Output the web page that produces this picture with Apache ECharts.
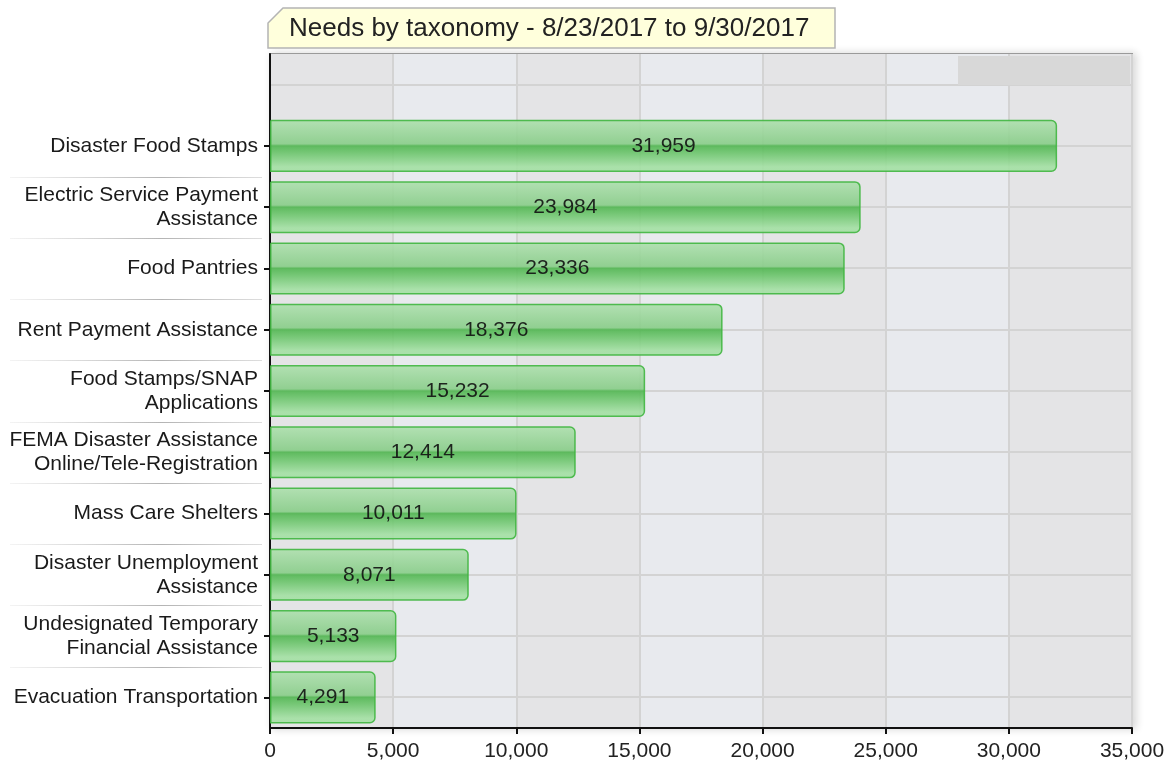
<!DOCTYPE html>
<html>
<head>
<meta charset="utf-8">
<script src="https://cdn.jsdelivr.net/npm/echarts@6/dist/echarts.min.js"></script>
<style>
html,body{margin:0;padding:0;background:#fff;}
#chart{width:1169px;height:766px;}
</style>
</head>
<body>
<div id="chart"></div>
<script>
var titleText = 'Needs by taxonomy - 8/23/2017 to 9/30/2017';
var categories = [
  'Disaster Food Stamps',
  'Electric Service Payment\nAssistance',
  'Food Pantries',
  'Rent Payment Assistance',
  'Food Stamps/SNAP\nApplications',
  'FEMA Disaster Assistance\nOnline/Tele-Registration',
  'Mass Care Shelters',
  'Disaster Unemployment\nAssistance',
  'Undesignated Temporary\nFinancial Assistance',
  'Evacuation Transportation'
];
var values = [31959, 23984, 23336, 18376, 15232, 12414, 10011, 8071, 5133, 4291];
var xTicks = [0, 5000, 10000, 15000, 20000, 25000, 30000, 35000];

var FONT = '"Liberation Sans", Arial, sans-serif';
var yData = [''].concat(categories);
var sData = ['-'].concat(values);

var chart = echarts.init(document.getElementById('chart'));

var barColor = new echarts.graphic.LinearGradient(0, 0, 0, 1, [
  {offset: 0, color: '#ade0ad'},
  {offset: 0.46, color: '#88cd88'},
  {offset: 0.5, color: '#50b650'},
  {offset: 0.62, color: '#68c368'},
  {offset: 0.9, color: '#a3e0a3'},
  {offset: 1, color: '#a3e0a3'}
]);

var option = {
  animation: false,
  backgroundColor: '#ffffff',
  title: {
    text: titleText,
    left: 289,
    top: 16,
    textStyle: {fontFamily: FONT, fontSize: 26, fontWeight: 'normal', color: '#222'},
    padding: 0,
    z: 10
  },
  grid: {
    left: 270, right: 37, top: 54, bottom: 38,
    show: true,
    borderColor: '#9a9a9a',
    borderWidth: 2,
    backgroundColor: '#e4e4e6',
    shadowColor: 'rgba(0,0,0,0.15)',
    shadowBlur: 8,
    shadowOffsetX: 3,
    shadowOffsetY: 0
  },
  xAxis: {
    type: 'value',
    min: xTicks[0],
    max: xTicks[xTicks.length - 1],
    interval: xTicks[1] - xTicks[0],
    axisLine: {show: true, lineStyle: {color: '#111', width: 2}},
    axisTick: {show: true, length: 6, lineStyle: {color: '#111', width: 2}},
    axisLabel: {
      fontFamily: FONT, fontSize: 21, color: '#222', margin: 13,
      formatter: function (v) { return v.toLocaleString('en-US'); }
    },
    splitLine: {show: true, lineStyle: {color: '#d3d3d3', width: 2}},
    splitArea: {show: true, areaStyle: {color: ['#e4e4e6', '#e8eaee']}}
  },
  yAxis: {
    type: 'category',
    inverse: true,
    data: yData,
    axisLine: {show: true, lineStyle: {color: '#111', width: 2}},
    axisTick: {
      show: true, alignWithLabel: true, length: 6,
      interval: function (idx) { return idx > 0; },
      lineStyle: {color: '#111', width: 2}
    },
    axisLabel: {
      fontFamily: FONT, fontSize: 21, color: '#1a1a1a', margin: 12, lineHeight: 24,
      interval: 0
    },
    splitLine: {show: false}
  },
  series: [{
    type: 'bar',
    data: sData,
    barCategoryGap: '15%',
    z: 3,
    itemStyle: {
      color: barColor,
      borderColor: '#40b640',
      borderWidth: 1.5,
      borderRadius: [0, 5, 5, 0],
      opacity: 0.9
    },
    label: {
      show: true,
      position: 'inside',
      fontFamily: FONT,
      fontSize: 21,
      color: '#111',
      formatter: function (p) { return Number(p.value).toLocaleString('en-US'); }
    }
  }]
};
chart.setOption(option);

var gridLeft = chart.convertToPixel({xAxisIndex: 0}, xTicks[0]);
var gridRight = chart.convertToPixel({xAxisIndex: 0}, xTicks[xTicks.length - 1]);

var gfx = [
  {
    type: 'polygon',
    z: 5,
    shape: {points: [[268, 48], [268, 23], [283, 8], [835, 8], [835, 48]]},
    style: {fill: '#ffffdc', stroke: '#b4b4b4', lineWidth: 1.5}
  },
  {
    type: 'rect',
    z: 5,
    shape: {x: 958, y: 56, width: 172, height: 29},
    style: {fill: '#d8d8d8'}
  }
];
// horizontal grid lines through category centres (behind the bars)
for (var c = 0; c < yData.length; c++) {
  var yc = Math.round(chart.convertToPixel({yAxisIndex: 0}, yData[c]));
  gfx.push({
    type: 'line',
    z: 1,
    silent: true,
    shape: {x1: gridLeft + 1, y1: yc, x2: gridRight - 1, y2: yc},
    style: {stroke: '#d3d3d3', lineWidth: 2}
  });
}
// label separators between category rows
for (var i = 1; i < yData.length - 1; i++) {
  var y1 = chart.convertToPixel({yAxisIndex: 0}, yData[i]);
  var y2 = chart.convertToPixel({yAxisIndex: 0}, yData[i + 1]);
  var y = Math.round((y1 + y2) / 2) + 0.5;
  gfx.push({
    type: 'line',
    z: 5,
    shape: {x1: 10, y1: y, x2: 262, y2: y},
    style: {
      stroke: new echarts.graphic.LinearGradient(0, 0, 1, 0, [
        {offset: 0, color: 'rgba(200,200,200,0.2)'},
        {offset: 0.6, color: 'rgba(180,180,180,1)'},
        {offset: 1, color: 'rgba(200,200,200,0.6)'}
      ]),
      lineWidth: 1
    }
  });
}
chart.setOption({graphic: gfx});
</script>
</body>
</html>
